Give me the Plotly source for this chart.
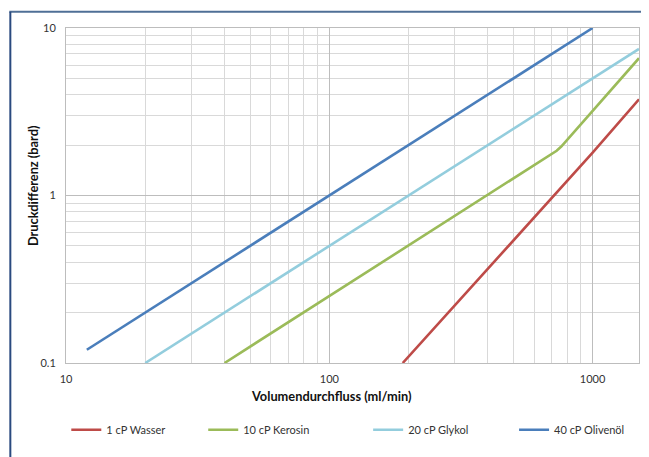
import plotly.graph_objects as go

# ---- data ----
x_wasser = [190, 1000, 1500]
y_wasser = [0.1, 1.8, 3.75]
x_kerosin = [40, 650, 700, 730, 760, 800, 1000, 1500]
y_kerosin = [0.1, 1.63, 1.76, 1.85, 1.96, 2.15, 3.2, 6.6]
x_glykol = [20, 1500]
y_glykol = [0.1, 7.5]
x_oliven = [12, 1000]
y_oliven = [0.12, 10]

names = ["1 cP Wasser", "10 cP Kerosin", "20 cP Glykol", "40 cP Olivenöl"]
colors = ["#be4b48", "#9bbb59", "#93cddd", "#4a7ebb"]
xs = [x_wasser, x_kerosin, x_glykol, x_oliven]
ys = [y_wasser, y_kerosin, y_glykol, y_oliven]

x_tickvals = [10, 100, 1000]
x_ticktext = ["10", "100", "1000"]
y_tickvals = [0.1, 1, 10]
y_ticktext = ["0.1", "1", "10"]

FONT = "Lato"
W, H = 649, 457
OFF = 8  # page body margin offset
ML, MR, MT, MB = 57.7, 18, 20.3, 101.7
PW, PH = W - ML - MR, H - MT - MB


def px_x(p):  # page px -> paper x
    return (p - OFF - ML) / PW


def px_y(p):  # page px -> paper y
    return (H - MB - (p - OFF)) / PH


fig = go.Figure()
legend_text_px = [105, 242, 407, 553]
for i, (n, c, x, y) in enumerate(zip(names, colors, xs, ys)):
    lg = "legend" if i == 0 else f"legend{i+1}"
    fig.add_trace(go.Scatter(x=x, y=y, mode="lines", name=n,
                             line=dict(color=c, width=2.6), legend=lg))

legend_common = dict(orientation="h", xanchor="left", yanchor="middle",
                     font=dict(family=FONT, size=11, color="#333333"),
                     bgcolor="rgba(0,0,0,0)", borderwidth=0)
layout_legends = {}
for i, tx in enumerate(legend_text_px):
    key = "legend" if i == 0 else f"legend{i+1}"
    layout_legends[key] = dict(x=px_x(tx - 39), y=px_y(430), **legend_common)

fig.update_layout(
    width=W, height=H,
    margin=dict(l=ML, r=MR, t=MT, b=MB, autoexpand=False),
    paper_bgcolor="white", plot_bgcolor="white",
    font=dict(family=FONT, size=11, color="#333333"),
    showlegend=True,
    **layout_legends,
)

fig.update_xaxes(
    type="log", range=[1, 3.1761],
    tickvals=x_tickvals, ticktext=x_ticktext,
    showgrid=True, gridcolor="#bdbdbd", gridwidth=1,
    minor=dict(dtick="D1", showgrid=True, gridcolor="#d9d9d9", gridwidth=1, ticks=""),
    showline=True, linecolor="#bdbdbd", mirror=True,
    ticks="", ticklabelstandoff=6,
    tickfont=dict(family=FONT, size=11, color="#333333"),
    zeroline=False, automargin=False,
)
fig.update_yaxes(
    type="log", range=[-1, 1],
    tickvals=y_tickvals, ticktext=y_ticktext,
    showgrid=True, gridcolor="#bdbdbd", gridwidth=1,
    minor=dict(dtick="D1", showgrid=True, gridcolor="#d9d9d9", gridwidth=1, ticks=""),
    showline=True, linecolor="#bdbdbd", mirror=True,
    ticks="", ticklabelstandoff=7,
    tickfont=dict(family=FONT, size=11, color="#333333"),
    zeroline=False, automargin=False,
)

# axis titles
fig.add_annotation(text="<b>Volumendurchfluss (ml/min)</b>", xref="paper", yref="paper",
                   x=px_x(331), y=px_y(396), showarrow=False,
                   xanchor="center", yanchor="middle",
                   font=dict(family=FONT, size=12.8, color="#111111"))
fig.add_annotation(text="<b>Druckdifferenz (bard)</b>", xref="paper", yref="paper",
                   x=px_x(32), y=px_y(186), showarrow=False, textangle=-90,
                   xanchor="center", yanchor="middle",
                   font=dict(family=FONT, size=12.8, color="#111111"))

# outer frame (top and left edges)
fig.add_shape(type="line", xref="paper", yref="paper",
              x0=px_x(9), x1=px_x(660), y0=px_y(12), y1=px_y(12),
              line=dict(color="#4f6f96", width=2))
fig.add_shape(type="line", xref="paper", yref="paper",
              x0=px_x(10), x1=px_x(10), y0=px_y(12), y1=px_y(470),
              line=dict(color="#2a4a7f", width=2))

fig.write_html("out.html")
